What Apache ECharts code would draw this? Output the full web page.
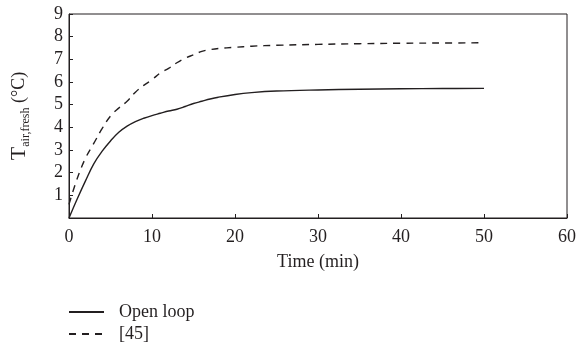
<!DOCTYPE html>
<html>
<head>
<meta charset="utf-8">
<script src="https://cdn.jsdelivr.net/npm/echarts@6/dist/echarts.min.js"></script>
<style>
  html, body { margin: 0; padding: 0; background: #fff; }
  #chart { width: 579px; height: 353px; }
</style>
</head>
<body>
<div id="chart"></div>
<script>
// time axis (min)
const times = [0, 1, 2, 3, 4, 5, 6, 7, 8, 9, 10, 11, 12, 13, 14, 15, 16, 17, 18, 20, 22, 25, 30, 35, 40, 45, 50]
// open loop temperature
const openLoop = [0, 0.85, 1.65, 2.4, 2.95, 3.4, 3.78, 4.05, 4.25, 4.4, 4.52, 4.62, 4.72, 4.8, 4.92, 5.05, 5.15, 5.25, 5.33, 5.45, 5.53, 5.6, 5.65, 5.68, 5.7, 5.71, 5.72]
// reference [45]
const ref45 = [0.6, 1.75, 2.65, 3.3, 3.95, 4.5, 4.85, 5.15, 5.55, 5.85, 6.1, 6.4, 6.6, 6.85, 7.05, 7.2, 7.35, 7.43, 7.48, 7.53, 7.58, 7.62, 7.66, 7.69, 7.71, 7.72, 7.73]
const seriesNames = ['Open loop', '[45]']

const ink = '#231f20'
const font = 'Liberation Serif'

const chart = echarts.init(document.getElementById('chart'))

function pairs(vals) {
  return times.map((t, i) => [t, vals[i]])
}

const option = {
  animation: false,
  grid: {
    left: 69,
    right: 10,
    top: 14,
    bottom: 135,
    show: true,
    borderColor: ink,
    borderWidth: 1
  },
  legend: {
    orient: 'vertical',
    left: 68,
    top: 303,
    padding: 0,
    itemWidth: 35,
    itemHeight: 14,
    itemGap: 4,
    itemStyle: { opacity: 0 },
    textStyle: { fontFamily: font, fontSize: 18, lineHeight: 18, color: ink, padding: [0, 0, 0, 10] },
    data: seriesNames
  },
  xAxis: {
    type: 'value',
    min: 0,
    max: 60,
    interval: 10,
    name: 'Time (min)',
    nameLocation: 'middle',
    nameGap: 35,
    nameTextStyle: { fontFamily: font, fontSize: 18, color: ink },
    axisLine: { lineStyle: { color: ink } },
    axisTick: { inside: true, length: 4, lineStyle: { color: ink } },
    axisLabel: { fontFamily: font, fontSize: 18, color: ink, margin: 10 },
    splitLine: { show: false }
  },
  yAxis: {
    type: 'value',
    min: 0,
    max: 9,
    interval: 1,
    name: '{t|T}{s|air,fresh}{u| (°C)}',
    nameLocation: 'middle',
    nameGap: 37,
    nameTextStyle: {
      fontFamily: font,
      color: ink,
      rich: {
        t: { fontFamily: font, fontSize: 22, color: ink, lineHeight: 26, verticalAlign: 'middle' },
        s: { fontFamily: font, fontSize: 12, color: ink, lineHeight: 26, verticalAlign: 'bottom', padding: [10, 0, 0, 0] },
        u: { fontFamily: font, fontSize: 18, color: ink, lineHeight: 26, verticalAlign: 'middle' }
      }
    },
    axisLine: { lineStyle: { color: ink } },
    axisTick: { inside: true, length: 4, lineStyle: { color: ink } },
    axisLabel: {
      fontFamily: font,
      fontSize: 18,
      color: ink,
      margin: 6,
      formatter: v => (v === 0 ? '' : String(v))
    },
    splitLine: { show: false }
  },
  series: [
    {
      name: seriesNames[0],
      type: 'line',
      data: pairs(openLoop),
      smooth: 0.4,
      symbol: 'none',
      lineStyle: { color: ink, width: 1.4, type: 'solid' },
      itemStyle: { color: ink }
    },
    {
      name: seriesNames[1],
      type: 'line',
      data: pairs(ref45),
      smooth: 0.4,
      symbol: 'none',
      lineStyle: { color: ink, width: 1.4, type: [7, 6] },
      itemStyle: { color: ink }
    }
  ]
}

chart.setOption(option)
</script>
</body>
</html>
